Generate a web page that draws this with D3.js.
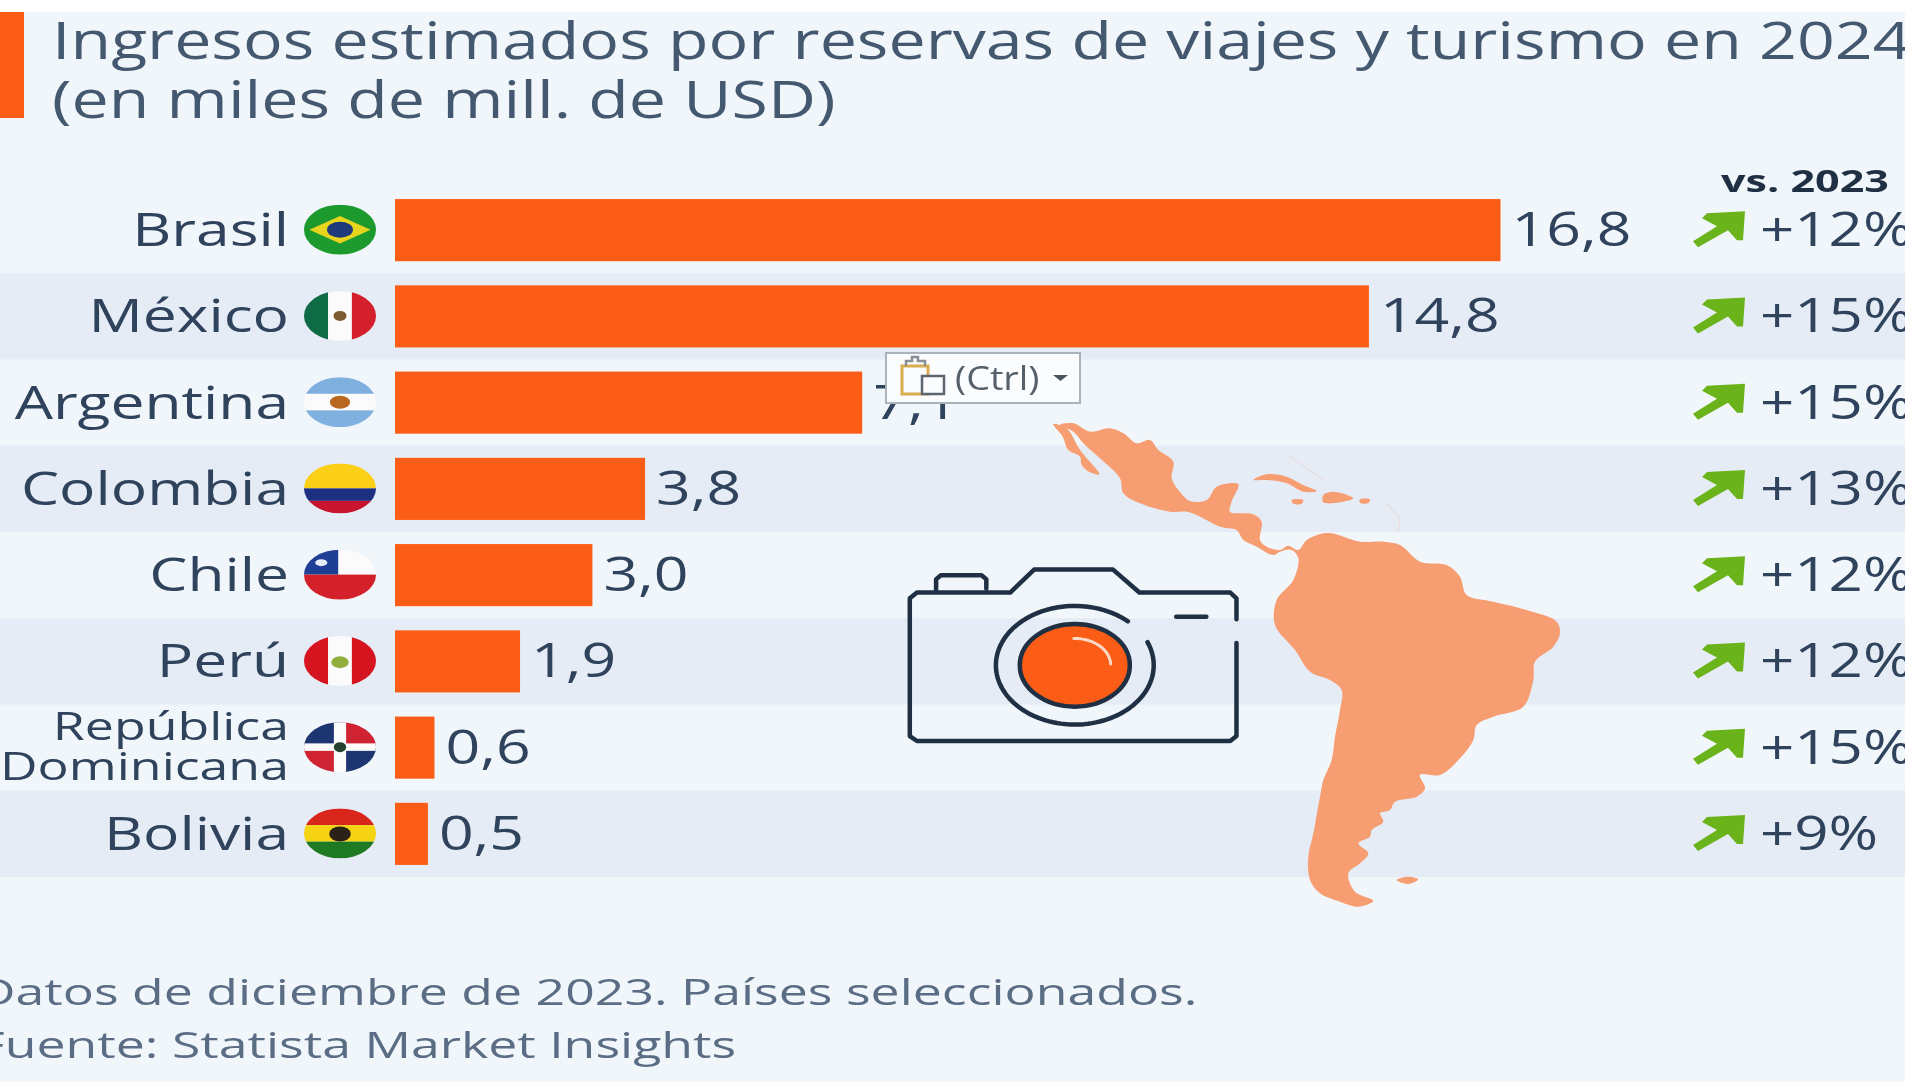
<!DOCTYPE html>
<html lang="es"><head><meta charset="utf-8">
<script src="https://cdn.jsdelivr.net/npm/d3@7"></script>
<style>html,body{margin:0;padding:0;background:#fff;overflow:hidden}svg{display:block;filter:blur(.6px)}text{font-family:"Open Sans","Noto Sans",sans-serif}</style>
</head><body><svg id="c" width="1905" height="1092"></svg>
<script>
const countries=["Brasil","México","Argentina","Colombia","Chile","Perú","República Dominicana","Bolivia"];
const countryLines=[["Brasil"],["México"],["Argentina"],["Colombia"],["Chile"],["Perú"],["República","Dominicana"],["Bolivia"]];
const values=[16.8,14.8,7.1,3.8,3.0,1.9,0.6,0.5];
const changes=["+12%","+15%","+15%","+13%","+12%","+12%","+15%","+9%"];
const titleLines=["Ingresos estimados por reservas de viajes y turismo en 2024","(en miles de mill. de USD)"];
const noteLines=["Datos de diciembre de 2023. Países seleccionados.","Fuente: Statista Market Insights"];
const compareLabel="vs. 2023";
const fmt=v=>v.toFixed(1).replace(".",",");

const ink="#2f435c",dark="#1f3044",orange="#fb5c16",green="#6bb31a",mapC="#f79d72";
const svg=d3.select("#c");
const W=1905;
const x=d3.scaleLinear().domain([0,16.8]).range([395,1500.5]);
const y=d3.scaleBand().domain(countries).range([187,877]).paddingInner(.28).paddingOuter(.14);
const rowC=c=>y(c)+y.bandwidth()/2;
const rowStep=y.step();

// background
svg.append("rect").attr("x",-4).attr("y",12).attr("width",W+8).attr("height",1070).attr("fill","#f1f6fb");
svg.selectAll(".band").data(countries.filter((d,i)=>i%2==1)).join("rect")
  .attr("x",-4).attr("width",W+8).attr("y",d=>rowC(d)-rowStep/2).attr("height",rowStep).attr("fill","#e6ecf5");

function stext(g,str,px,py,size,sx,o={}){
  return g.append("text").text(str)
   .attr("transform",`translate(${px},${py}) scale(${sx},1)`)
   .attr("font-size",size).attr("fill",o.fill||ink).attr("font-weight",o.weight||500)
   .attr("text-anchor",o.anchor||"start");
}
// title
svg.append("rect").attr("x",-4).attr("y",12).attr("width",28).attr("height",106).attr("fill",orange);
titleLines.forEach((t,i)=>stext(svg,t,52,[59,118][i],52,1.274,{fill:"#44596f"}));

// bars
svg.selectAll(".bar").data(countries).join("rect").attr("class","bar")
  .attr("x",x(0)).attr("y",d=>y(d)).attr("height",y.bandwidth())
  .attr("width",(d,i)=>x(values[i])-x(0)).attr("fill",orange);

// labels
countries.forEach((c,i)=>{
  const cy=rowC(c), lines=countryLines[i];
  if(lines.length==1) stext(svg,lines[0],289,cy+16,46,1.315,{anchor:"end"});
  else lines.forEach((l,j)=>stext(svg,l,289,cy+[-8,32][j],39,1.33,{anchor:"end"}));
  stext(svg,fmt(values[i]),x(values[i])+11,cy+16,48,1.265);
  stext(svg,changes[i],1760,cy+16,48,1.25);
});
stext(svg,compareLabel,1805,192,31,1.39,{anchor:"middle",fill:dark,weight:700});

// trend arrows
const arrowPts=[[-17,-10],[-2,-2],[-26,13],[-21,19],[9,2],[18,12],[24,12],[26,-17],[-12,-15]];
countries.forEach(c=>{
  svg.append("path").attr("d",d3.line()(arrowPts)+"Z").attr("fill",green)
     .attr("transform",`translate(1719,${rowC(c)-2})`);
});

// flags
const defs=svg.append("defs");
const FW=36,FH=25;
const flagDraw={
 "Brasil":g=>{r(g,-1,-1,2,2,"#1c9a2e");g.append("path").attr("d",sc([[-.85,0],[0,-.55],[.85,0],[0,.55]])).attr("fill","#e6d41e");el(g,0,0,.36,.32,"#1f3a7a");},
 "México":g=>{r(g,-1,-1,.67,2,"#0f6b46");r(g,-.33,-1,.66,2,"#fbfbfb");r(g,.33,-1,.67,2,"#d3202c");el(g,0,0,.18,.2,"#7a5a2e");},
 "Argentina":g=>{r(g,-1,-1,2,.67,"#7fb0e0");r(g,-1,-.33,2,.66,"#fbfbfb");r(g,-1,.33,2,.67,"#7fb0e0");el(g,0,0,.28,.26,"#b8691f");},
 "Colombia":g=>{r(g,-1,-1,2,1,"#fbd016");r(g,-1,0,2,.5,"#1c2f80");r(g,-1,.5,2,.5,"#c8142e");},
 "Chile":g=>{r(g,-1,-1,2,1,"#fbfbfb");r(g,-1,-1,.95,1,"#1f3f95");r(g,-1,0,2,1,"#d4202a");el(g,-.52,-.48,.17,.14,"#e6eef8");},
 "Perú":g=>{r(g,-1,-1,.67,2,"#d6141f");r(g,-.33,-1,.66,2,"#fbfbfb");r(g,.33,-1,.67,2,"#d6141f");el(g,0,.05,.24,.24,"#8fae3c");},
 "República Dominicana":g=>{r(g,-1,-1,1,1,"#1d3570");r(g,0,-1,1,1,"#cf2233");r(g,-1,0,1,1,"#cf2233");r(g,0,0,1,1,"#1d3570");r(g,-.17,-1,.34,2,"#fbfbfb");r(g,-1,-.15,2,.3,"#fbfbfb");el(g,0,0,.17,.2,"#25402c");},
 "Bolivia":g=>{r(g,-1,-1,2,.67,"#d8261c");r(g,-1,-.33,2,.66,"#f6d313");r(g,-1,.33,2,.67,"#1e7a22");el(g,0,.02,.3,.3,"#2a2218");}
};
function r(g,a,b,w,h,f){g.append("rect").attr("x",a*FW).attr("y",b*FH).attr("width",w*FW).attr("height",h*FH).attr("fill",f);}
function el(g,a,b,rx,ry,f){g.append("ellipse").attr("cx",a*FW).attr("cy",b*FH).attr("rx",rx*FW).attr("ry",ry*FH).attr("fill",f);}
function sc(p){return d3.line()(p.map(q=>[q[0]*FW,q[1]*FH]))+"Z";}
countries.forEach((c,i)=>{
  defs.append("clipPath").attr("id","f"+i).append("ellipse").attr("rx",FW).attr("ry",FH);
  const g=svg.append("g").attr("transform",`translate(340,${rowC(c)-.5})`).append("g").attr("clip-path",`url(#f${i})`);
  flagDraw[c](g);
});

const fromCrop=(ox,oy,pts)=>pts.map(p=>[ox+p[0]/3,oy+p[1]/3]);
const A=p=>fromCrop(1040,415,p),B=p=>fromCrop(1260,530,p),C=p=>fromCrop(1280,710,p);
const mainland=[
 ...A([[60,30],[100,25],[150,50],[210,40],[250,55],[290,85],[330,75],[355,105],[400,140],[395,190],[415,225],[450,258],[500,255],[530,215],[595,208],[575,260],[570,290],[640,298],[665,320],[660,375],[680,395],[720,405],[745,392],[775,405],[800,375],[850,355]]),
 ...B([[215,10],[250,20],[300,35],[370,35],[420,45],[480,95],[560,105],[600,140],[620,195],[700,215],[800,240],[890,275],[900,310],[880,350],[825,395],[820,450],[790,530],[700,560],[650,585],[640,630],[600,685]]),
 ...C([[480,195],[420,195],[435,235],[410,260],[345,275],[330,300],[300,310],[310,335],[275,360],[270,380],[235,400],[265,430],[240,460],[205,490],[225,545],[280,572],[235,590],[180,575],[120,550],[90,510],[85,440],[100,370],[120,260],[130,210],[155,150],[165,80],[180,0]]),
 ...B([[245,480],[210,450],[150,425],[105,360],[45,285],[50,210],[100,150],[115,85],[95,60],[60,65],[40,75]]),
 ...A([[650,395],[610,375],[590,345],[540,335],[470,300],[440,290],[390,290],[300,265],[250,235],[240,190],[180,130],[135,90],[100,50]])
];
const baja=A([[40,28],[80,40],[120,105],[178,178],[150,172],[125,150],[120,125],[85,105],[68,65]]);
const islands=[
 A([[640,195],[680,178],[740,185],[790,210],[830,228],[790,230],[740,205],[680,195]]),
 A([[850,240],[880,230],[940,250],[900,262],[850,262]]),
 A([[755,255],[790,255],[785,266],[760,266]]),
 A([[960,253],[990,253],[985,264],[960,263]]),
 C([[350,510],[385,500],[415,508],[385,522]])
];
const faint=[A([[750,125],[800,160],[860,200]]),A([[1040,265],[1080,310],[1075,350]])];
const mapLine=d3.line().curve(d3.curveCatmullRomClosed.alpha(.5));
[mainland,baja,...islands].forEach(p=>svg.append("path").attr("d",mapLine(p)).attr("fill",mapC));
faint.forEach(p=>svg.append("path").attr("d",d3.line()(p)).attr("fill","none").attr("stroke",mapC).attr("stroke-width",1.5).attr("opacity",.14));

// camera icon
const mx=d3.scaleLinear().domain([0,1568]).range([850,1600]);
const my=d3.scaleLinear().domain([0,1568]).range([340,940]);
const cam=svg.append("g").attr("fill","none").attr("stroke",dark).attr("stroke-width",4.5).attr("stroke-linecap","round").attr("stroke-linejoin","round");
const cl=d3.line().x(d=>mx(d[0])).y(d=>my(d[1]));
cam.append("path").attr("d",cl([[808,730],[808,675],[795,660],[605,660],[550,600],[385,600],[335,660],[140,660],[125,675],[125,1035],[140,1048],[795,1048],[808,1035],[808,792]]));
cam.append("path").attr("d",cl([[180,655],[180,625],[190,615],[275,615],[285,625],[285,650]]));
cam.append("path").attr("d",cl([[682,723],[745,723]]));
const lc=[470,850];
const ell=(rx,ry,a0,a1)=>{const pts=d3.range(a0,a1+.01,.05).map(a=>[lc[0]+rx*Math.cos(a),lc[1]+ry*Math.sin(a)]);return cl(pts);};
cam.append("path").attr("d",ell(165,155,-.40,5.46));
cam.append("ellipse").attr("cx",mx(lc[0])).attr("cy",my(lc[1])).attr("rx",115/2.09).attr("ry",108/2.61).attr("fill",orange);
cam.append("path").attr("d",ell(75,70,-1.6,-.05)).attr("stroke","#fbd9c6").attr("stroke-width",3);

// paste-options popup
const pop=svg.append("g");
pop.append("rect").attr("x",886).attr("y",353).attr("width",194).attr("height",50).attr("fill","#fbfcfd").attr("stroke","#aab2ba").attr("stroke-width",2);
pop.append("path").attr("d","M902 394V366H928V394Z").attr("fill","none").attr("stroke","#d9ac4e").attr("stroke-width",3);
pop.append("path").attr("d","M906 366V361H912V357H918V361H925V366").attr("fill","none").attr("stroke","#8a8f96").attr("stroke-width",2.5);
pop.append("rect").attr("x",922).attr("y",376).attr("width",22).attr("height",18).attr("fill","#fbfcfd").attr("stroke","#5c6670").attr("stroke-width",2.5);
stext(pop,"(Ctrl)",955,390,32,1.18,{fill:"#56606b"});
pop.append("path").attr("d","M1053 375H1068L1060.5 381Z").attr("fill","#4b5560");

// footnotes
noteLines.forEach((t,i)=>stext(svg,t,-22,[1005,1058][i],37,1.40,{fill:"#5a6d84"}));
</script></body></html>
